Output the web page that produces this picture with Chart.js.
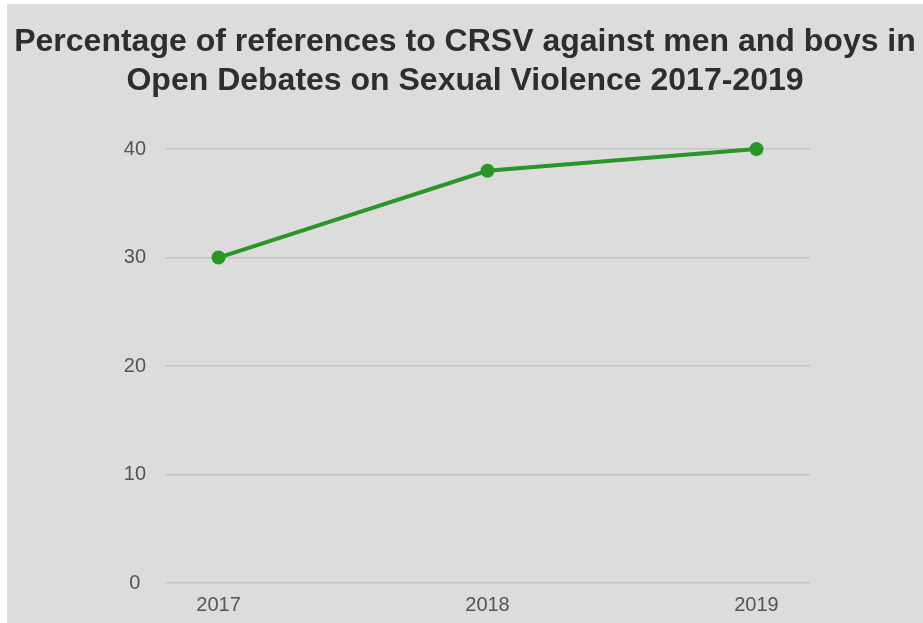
<!DOCTYPE html>
<html>
<head>
<meta charset="utf-8">
<script src="https://cdn.jsdelivr.net/npm/chart.js@4/dist/chart.umd.min.js"></script>
<style>
html,body{margin:0;padding:0;background:#ffffff;}
#wrap{position:absolute;left:7px;top:4px;width:916px;height:619px;}
</style>
</head>
<body>
<div id="wrap"><canvas id="c" width="916" height="619"></canvas></div>
<script>
const titleLines = ["Percentage of references to CRSV against men and boys in", "Open Debates on Sexual Violence 2017-2019"];
const years = ["2017", "2018", "2019"];
const percentages = [30, 38, 40];
const yTicks = [0, 10, 20, 30, 40];

const bgPlugin = {
  id: 'bg',
  beforeDraw(chart) {
    const ctx = chart.ctx;
    ctx.save();
    ctx.fillStyle = '#dcdcdc';
    ctx.fillRect(0, 0, chart.width, chart.height);
    ctx.restore();
  }
};

new Chart(document.getElementById('c'), {
  type: 'line',
  data: {
    datasets: [{
      data: years.map((y, i) => ({x: Number(y), y: percentages[i]})),
      borderColor: '#2a962a',
      backgroundColor: '#2a962a',
      borderWidth: 4,
      pointRadius: 7,
      pointHoverRadius: 7,
      pointBorderWidth: 0,
      tension: 0,
      clip: false
    }]
  },
  options: {
    responsive: false,
    animation: false,
    events: [],
    layout: {padding: {left: 0, right: 0, top: 0, bottom: 0}},
    plugins: {
      legend: {display: false},
      tooltip: {enabled: false},
      title: {
        display: true,
        text: titleLines,
        color: '#2e2e2e',
        font: {family: 'Liberation Sans, Arial, sans-serif', size: 32, weight: 'bold', lineHeight: 1.22},
        padding: {top: 19, bottom: 48}
      }
    },
    scales: {
      x: {
        type: 'linear',
        min: 2016.801,
        max: 2019.199,
        afterBuildTicks(scale) { scale.ticks = years.map(y => ({value: Number(y)})); },
        afterFit(scale) { scale.height = 40; },
        grid: {display: false, drawTicks: false},
        border: {display: false},
        ticks: {
          color: '#555555',
          font: {family: 'Liberation Sans, Arial, sans-serif', size: 20},
          padding: 10,
          maxRotation: 0,
          callback: v => String(v)
        }
      },
      y: {
        min: 0,
        max: 40,
        afterBuildTicks(scale) { scale.ticks = yTicks.map(v => ({value: v})); },
        afterFit(scale) { scale.width = 158; },
        grid: {color: '#c4c4c4', lineWidth: 1.5, drawTicks: false},
        border: {display: false},
        ticks: {
          color: '#555555',
          font: {family: 'Liberation Sans, Arial, sans-serif', size: 20},
          padding: 19,
          crossAlign: 'center'
        }
      },
      yRight: {
        position: 'right',
        min: 0,
        max: 40,
        afterFit(scale) { scale.width = 113; },
        grid: {display: false, drawTicks: false, drawOnChartArea: false},
        border: {display: false},
        ticks: {display: false}
      }
    }
  },
  plugins: [bgPlugin]
});
</script>
</body>
</html>
